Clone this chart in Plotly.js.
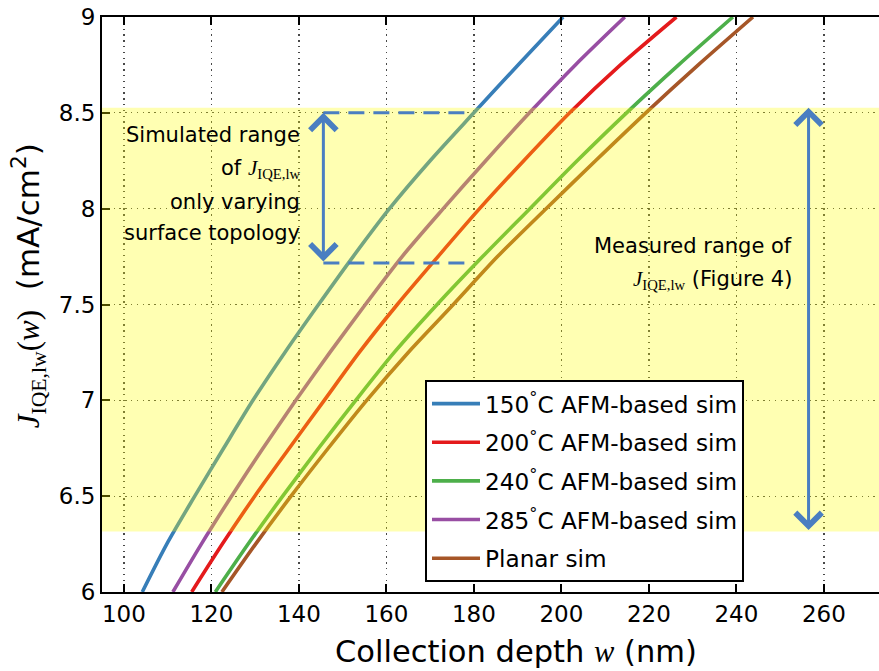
<!DOCTYPE html>
<html>
<head>
<meta charset="utf-8">
<script src="https://cdn.plot.ly/plotly-3.0.1.min.js"></script>
<style>html,body{margin:0;padding:0;background:#fff;}#chart{width:879px;height:671px;}</style>
</head>
<body>
<div id="chart"></div>
<script>
// ---- data ----
var jLevels = [6.0, 6.25, 6.5, 6.75, 7.0, 7.25, 7.5, 7.75, 8.0, 8.25, 8.5, 8.75, 9.0];                // J_IQE,lw (mA/cm2)
var depth150 = [104.2, 109.8, 116.2, 122.8, 129.5, 136.8, 144.5, 152.4, 160.7, 170.0, 180.0, 190.1, 200.4]; // w (nm)
var depth200 = [115.5, 122.5, 129.9, 137.8, 145.8, 153.8, 162.5, 171.8, 181.3, 191.4, 201.9, 213.5, 226.3];
var depth240 = [120.9, 128.4, 136.3, 144.5, 153.0, 161.8, 171.6, 182.0, 192.8, 203.6, 214.9, 226.8, 239.2];
var depth285 = [111.2, 117.7, 124.6, 131.8, 139.3, 147.1, 155.2, 163.6, 173.0, 182.7, 192.7, 203.2, 214.5];
var depthPlanar = [122.4, 130.1, 138.2, 146.7, 155.5, 165.0, 175.3, 185.4, 196.5, 207.8, 219.3, 231.3, 243.8];
var seriesNames = ['150<sup>°</sup>C AFM-based sim', '200<sup>°</sup>C AFM-based sim',
                   '240<sup>°</sup>C AFM-based sim', '285<sup>°</sup>C AFM-based sim', 'Planar sim'];

var measuredRange = [6.316, 8.527];     // shaded band / measured arrow
var simulatedRange = [7.717, 8.5];      // simulated range arrow
var simArrowDepth = 145.6;
var simDashEnds = [179.1, 179.9];       // lower, upper
var measArrowDepth = 256.5;

var simLabel = ['Simulated range', 'of JQ', 'only varying', 'surface topology'];
var measLabel = ['Measured range of', 'JQ (Figure 4)'];

// ---- styling ----
var colors = ['rgb(55,126,184)', 'rgb(228,26,28)', 'rgb(77,175,74)', 'rgb(152,78,163)', 'rgb(166,86,40)'];
var arrowBlue = 'rgb(74,126,193)';
var SANS = 'DejaVu Sans';
var jMath = '<span style="font-family:Liberation Serif;font-style:italic">J</span><sub><span style="font-family:Liberation Serif">IQE,lw</span></sub>';
function mathify(s){ return s.replace('JQ', jMath); }

var depths = [depth150, depth200, depth240, depth285, depthPlanar];
var traces = depths.map(function(d, i){
  return {
    type: 'scatter', mode: 'lines', x: d, y: jLevels, name: seriesNames[i],
    legendgroup: 'g' + i,
    line: {color: colors[i], width: 3.6, shape: 'spline', smoothing: 0.8}
  };
});

var annotations = [];
var arrowStyle = {xref: 'x', yref: 'y', axref: 'x', ayref: 'y', text: '', showarrow: true,
  arrowside: 'end+start', arrowhead: 4, startarrowhead: 4, arrowsize: 1.7, startarrowsize: 1.7,
  arrowwidth: 3, arrowcolor: arrowBlue, standoff: 0, startstandoff: 0};
annotations.push(Object.assign({x: simArrowDepth, y: simulatedRange[1], ax: simArrowDepth, ay: simulatedRange[0]}, arrowStyle));
annotations.push(Object.assign({x: measArrowDepth, y: measuredRange[1], ax: measArrowDepth, ay: measuredRange[0]}, arrowStyle));

var simY = [0.795, 0.735, 0.678, 0.625];
simLabel.forEach(function(t, i){
  annotations.push({xref: 'paper', yref: 'paper', x: 0.2575, y: simY[i], xanchor: 'right', yanchor: 'middle',
    align: 'right', showarrow: false, text: mathify(t), font: {family: SANS, size: 21, color: '#000'}});
});
var measY = [0.601, 0.543];
measLabel.forEach(function(t, i){
  annotations.push({xref: 'paper', yref: 'paper', x: 0.8906, y: measY[i], xanchor: 'right', yanchor: 'middle',
    align: 'right', showarrow: false, text: mathify(t), font: {family: SANS, size: 21, color: '#000'}});
});

// axis titles (placed as in the reference)
annotations.push({xref: 'paper', yref: 'paper', x: 0.533, y: -0.104, xanchor: 'center', yanchor: 'middle',
  showarrow: false, font: {family: SANS, size: 30.5, color: '#000'},
  text: 'Collection depth <span style="font-family:Liberation Serif;font-style:italic">w</span> (nm)'});
annotations.push({xref: 'paper', yref: 'paper', x: -0.095, y: 0.532, xanchor: 'center', yanchor: 'middle',
  textangle: -90, showarrow: false, font: {family: SANS, size: 31, color: '#000'},
  text: '<span style="font-family:Liberation Serif;font-style:italic">J</span><sub><span style="font-family:Liberation Serif">IQE,lw</span></sub><span style="font-family:Liberation Serif">(<i>w</i>)</span>\u00a0\u00a0(mA/cm<sup>2</sup>)'});

var shapes = [
  {type: 'rect', xref: 'paper', yref: 'y', x0: 0, x1: 1, y0: measuredRange[0], y1: measuredRange[1],
   fillcolor: 'rgb(255,255,0)', opacity: 0.3, line: {width: 0}, layer: 'above'},
  {type: 'line', xref: 'x', yref: 'y', x0: simArrowDepth, x1: simDashEnds[1], y0: simulatedRange[1], y1: simulatedRange[1],
   line: {color: arrowBlue, width: 3, dash: '16px,9px'}, layer: 'above'},
  {type: 'line', xref: 'x', yref: 'y', x0: simArrowDepth, x1: simDashEnds[0], y0: simulatedRange[0], y1: simulatedRange[0],
   line: {color: arrowBlue, width: 3, dash: '16px,9px'}, layer: 'above'}
];

var axisCommon = {
  showgrid: true, gridcolor: 'rgba(40,40,40,0.85)', gridwidth: 1.3, griddash: '1.3px,4.5px',
  zeroline: false, showline: true, linecolor: '#000', linewidth: 2,
  ticks: 'inside', ticklen: 8, tickwidth: 2, tickcolor: '#000',
  tickfont: {family: SANS, size: 23, color: '#000'}
};

var layout = {
  width: 879, height: 671,
  margin: {l: 102, r: 0, t: 17, b: 79, pad: 0},
  paper_bgcolor: '#fff', plot_bgcolor: '#fff',
  showlegend: true,
  legend: {x: 0.4157, y: 0.3687, xanchor: 'left', yanchor: 'top', bgcolor: '#fff',
           bordercolor: '#000', borderwidth: 2, tracegroupgap: 5.5, itemwidth: 48,
           font: {family: SANS, size: 23.2, color: '#000'}},
  xaxis: Object.assign({}, axisCommon, {range: [95, 272.6], tick0: 100, dtick: 20, mirror: 'ticks'}),
  yaxis: Object.assign({}, axisCommon, {range: [6, 9], tick0: 6, dtick: 0.5, mirror: false}),
  shapes: shapes,
  annotations: annotations
};

Plotly.newPlot('chart', traces, layout, {displayModeBar: false, staticPlot: true});
</script>
</body>
</html>
